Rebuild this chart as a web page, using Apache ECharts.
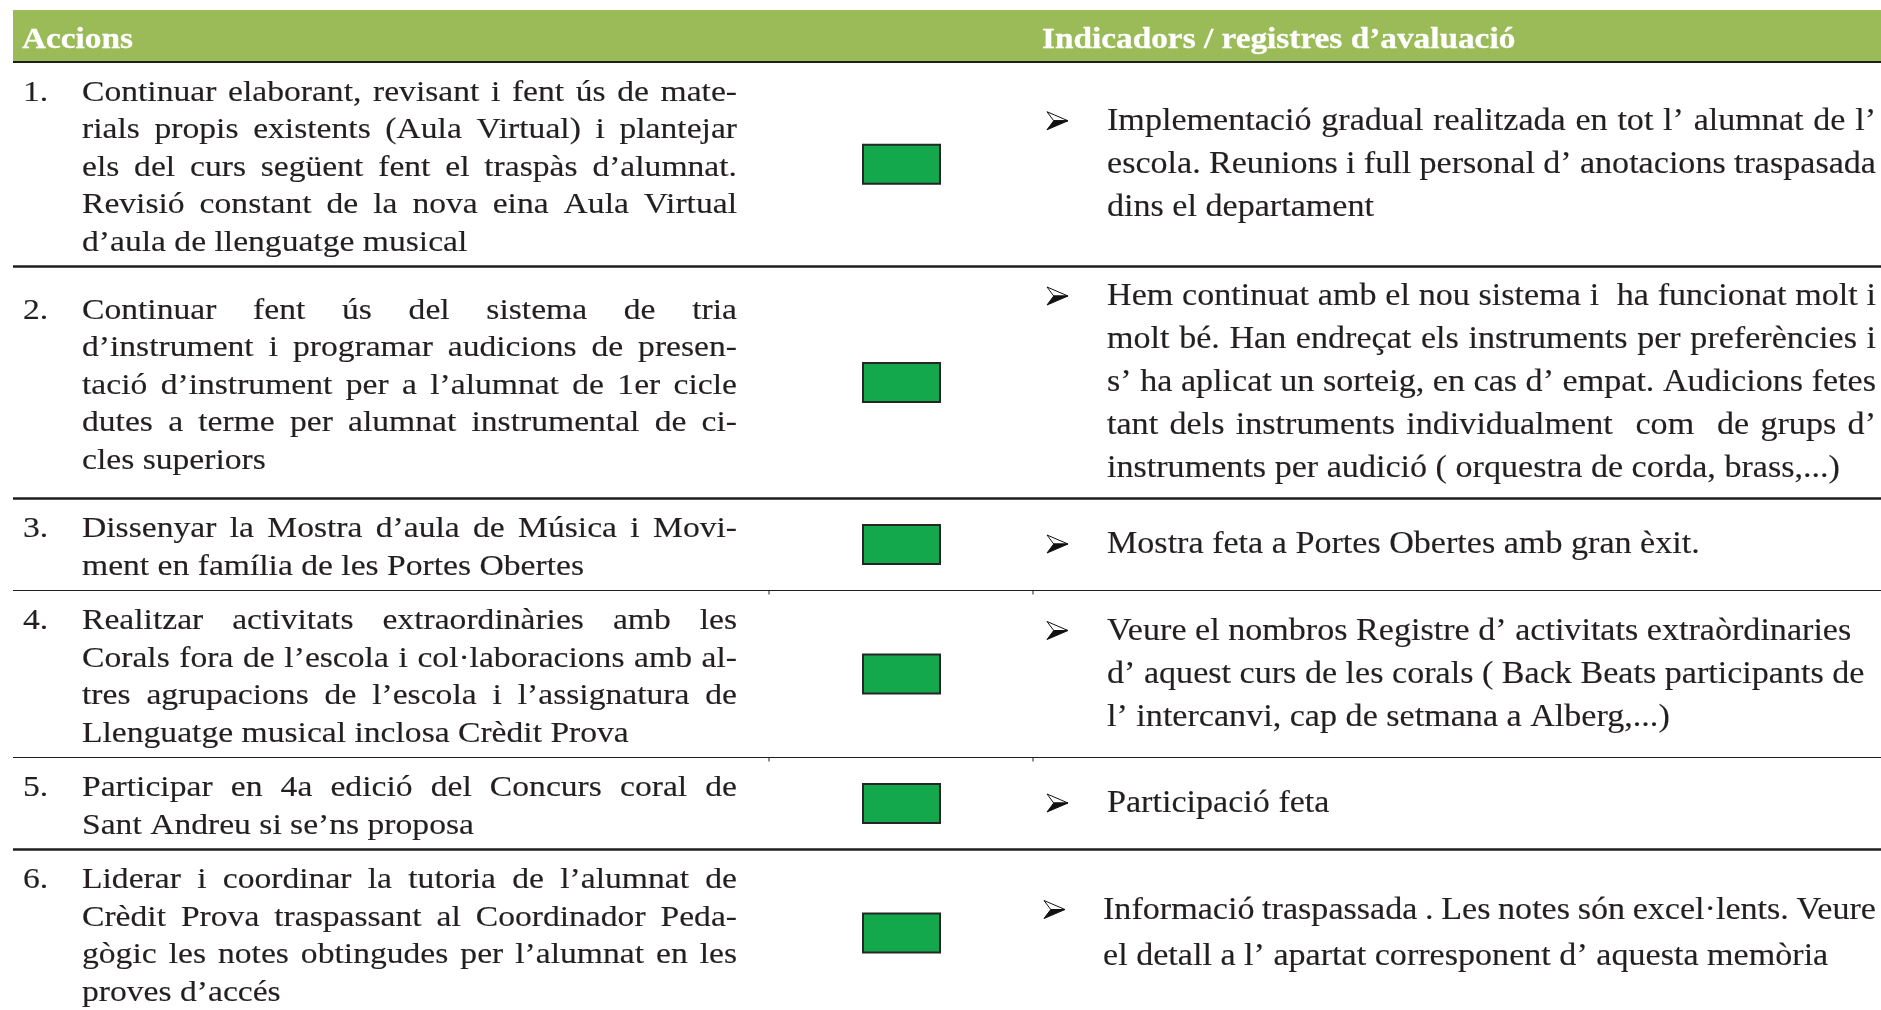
<!DOCTYPE html>
<html>
<head>
<meta charset="utf-8">
<script src="https://cdn.jsdelivr.net/npm/echarts@6/dist/echarts.min.js"></script>
<style>
html,body{margin:0;padding:0;background:#ffffff;}
#main{width:1881px;height:1010px;}
</style>
</head>
<body>
<div id="main"></div>
<script>
// ---------------- DATA ----------------
const headers = ['Accions', 'Indicadors / registres d’avaluació'];
const actionNumbers = ['1.', '2.', '3.', '4.', '5.', '6.'];
const actionLines = [
  ['Continuar elaborant, revisant i fent ús de mate-',
   'rials propis existents (Aula Virtual) i plantejar',
   'els del curs següent fent el traspàs d’alumnat.',
   'Revisió constant de la nova eina Aula Virtual',
   'd’aula de llenguatge musical'],
  ['Continuar fent ús del sistema de tria',
   'd’instrument i programar audicions de presen-',
   'tació d’instrument per a l’alumnat de 1er cicle',
   'dutes a terme per alumnat instrumental de ci-',
   'cles superiors'],
  ['Dissenyar la Mostra d’aula de Música i Movi-',
   'ment en família de les Portes Obertes'],
  ['Realitzar activitats extraordinàries amb les',
   'Corals fora de l’escola i col·laboracions amb al-',
   'tres agrupacions de l’escola i l’assignatura de',
   'Llenguatge musical inclosa Crèdit Prova'],
  ['Participar en 4a edició del Concurs coral de',
   'Sant Andreu si se’ns proposa'],
  ['Liderar i coordinar la tutoria de l’alumnat de',
   'Crèdit Prova traspassant al Coordinador Peda-',
   'gògic les notes obtingudes per l’alumnat en les',
   'proves d’accés']
];
const indicatorLines = [
  ['Implementació gradual realitzada en tot l’ alumnat de l’',
   'escola. Reunions i full personal d’ anotacions traspasada',
   'dins el departament'],
  ['Hem continuat amb el nou sistema i  ha funcionat molt i',
   'molt bé. Han endreçat els instruments per preferències i',
   's’ ha aplicat un sorteig, en cas d’ empat. Audicions fetes',
   'tant dels instruments individualment  com  de grups d’',
   'instruments per audició ( orquestra de corda, brass,...)'],
  ['Mostra feta a Portes Obertes amb gran èxit.'],
  ['Veure el nombros Registre d’ activitats extraòrdinaries',
   'd’ aquest curs de les corals ( Back Beats participants de',
   'l’ intercanvi, cap de setmana a Alberg,...)'],
  ['Participació feta'],
  ['Informació traspassada . Les notes són excel·lents. Veure',
   'el detall a l’ apartat corresponent d’ aquesta memòria']
];
const indicatorAlign = ['justify', 'justify', 'left', 'left', 'left', 'justify'];
const status = ['assolit', 'assolit', 'assolit', 'assolit', 'assolit', 'assolit'];

// ---------------- LAYOUT / STYLE ----------------
const W = 1881, H = 1010;
const LAY = {
  left: 13, right: 1881,
  headerTop: 10, headerBottom: 62,
  headLeftX: 22, headRightX: 1042, headDy: 4,
  numX: 23, actionX: 82, actionRight: 737,
  boxX: 863, boxW: 77, boxH: 39,
  bulletX: [1047, 1047, 1047, 1047, 1047, 1044],
  bulletW: 21, bulletH: 18,
  indX: [1107, 1107, 1107, 1107, 1107, 1103],
  indRight: 1876,
  pitchL: 37.5,
  pitchR: [43, 43, 43, 43, 43, 46],
  rowPad: 17,
  thinRows: [2, 3],
  colTicks: [769, 1033],
  dyL: 3.5, dyR: 0.5
};
const STY = {
  font: '"Liberation Serif", "Times New Roman", serif',
  sizeL: 30, sxL: 1.12,
  sizeR: 31, sxR: 1.1,
  headSize: 30, headSx: 1.11,
  textColor: '#231f20',
  headBg: '#9bbb59',
  rule: '#1e1e1e',
  statusColor: { assolit: '#12a84b' }
};

const mctx = document.createElement('canvas').getContext('2d');
function measure(t, font) { mctx.font = font; return mctx.measureText(t).width; }

// rows
const rows = [];
let yCur = LAY.headerBottom;
for (let r = 0; r < actionLines.length; r++) {
  const hL = actionLines[r].length * LAY.pitchL;
  const hR = indicatorLines[r].length * LAY.pitchR[r];
  const h = Math.max(hL, hR) + LAY.rowPad;
  rows.push({ top: yCur, h: h, hL: hL, hR: hR });
  yCur += h;
}

// text items
const textItems = [];
const bulletData = [];
const fontL = STY.sizeL + 'px ' + STY.font;
const fontR = STY.sizeR + 'px ' + STY.font;
const headFont = 'bold ' + STY.headSize + 'px ' + STY.font;
const headY = (LAY.headerTop + LAY.headerBottom) / 2 + LAY.headDy;
textItems.push({ x: LAY.headLeftX, y: headY, text: headers[0], font: headFont, sx: STY.headSx, color: '#ffffff', sw: 0.3 });
textItems.push({ x: LAY.headRightX, y: headY, text: headers[1], font: headFont, sx: STY.headSx, color: '#ffffff', sw: 0.3 });
rows.forEach(function (row, r) {
  const y0L = row.top + (row.h - row.hL) / 2;
  actionLines[r].forEach(function (line, k) {
    const y = y0L + LAY.pitchL * (k + 0.5) + LAY.dyL;
    if (k === 0) textItems.push({ x: LAY.numX, y: y, text: actionNumbers[r], font: fontL, sx: STY.sxL, color: STY.textColor, sw: 0.15 });
    textItems.push({ x: LAY.actionX, y: y, right: LAY.actionRight, justify: k < actionLines[r].length - 1,
      text: line, font: fontL, sx: STY.sxL, color: STY.textColor, sw: 0.15 });
  });
  const y0R = row.top + (row.h - row.hR) / 2;
  indicatorLines[r].forEach(function (line, k) {
    const y = y0R + LAY.pitchR[r] * (k + 0.5) + LAY.dyR;
    if (k === 0) bulletData.push([LAY.bulletX[r], y - 1]);
    textItems.push({ x: LAY.indX[r], y: y, right: LAY.indRight,
      justify: indicatorAlign[r] === 'justify' && k < indicatorLines[r].length - 1,
      text: line, font: fontR, sx: STY.sxR, color: STY.textColor, sw: 0.15 });
  });
});

// rules
const ruleData = [[LAY.left, LAY.headerBottom, LAY.right, 2]];
rows.forEach(function (row, r) {
  if (r < rows.length - 1) {
    ruleData.push([LAY.left, row.top + row.h, LAY.right, LAY.thinRows.indexOf(r) >= 0 ? 1.2 : 2.6]);
  }
});
const statusData = rows.map(function (row, r) { return [LAY.boxX, row.top + row.h / 2, r]; });
const textData = textItems.map(function (t, i) { return [t.x, t.y, i]; });

function renderText(params, api) {
  const it = textItems[api.value(2)];
  const p = api.coord([api.value(0), api.value(1)]);
  const base = { fill: it.color, font: it.font, verticalAlign: 'middle', align: 'left', stroke: it.color, lineWidth: it.sw };
  if (!it.justify) {
    return { type: 'text', x: p[0], y: p[1], scaleX: it.sx, style: Object.assign({ text: it.text }, base), silent: true };
  }
  const pr = api.coord([it.right, api.value(1)]);
  const words = it.text.split(' ');
  const ws = words.map(function (w) { return measure(w, it.font) * it.sx; });
  const total = ws.reduce(function (a, b) { return a + b; }, 0);
  const gap = (pr[0] - p[0] - total) / (words.length - 1);
  const children = [];
  let x = p[0];
  words.forEach(function (w, i) {
    if (w.length) children.push({ type: 'text', x: x, y: p[1], scaleX: it.sx, style: Object.assign({ text: w }, base), silent: true });
    x += ws[i] + gap;
  });
  return { type: 'group', children: children };
}

const chart = echarts.init(document.getElementById('main'), null, { renderer: 'canvas' });
chart.setOption({
  animation: false,
  backgroundColor: '#ffffff',
  grid: { left: 0, right: 0, top: 0, bottom: 0 },
  xAxis: { type: 'value', min: 0, max: W, show: false },
  yAxis: { type: 'value', min: 0, max: H, inverse: true, show: false },
  tooltip: { show: false },
  series: [
    {
      type: 'custom', name: 'header', clip: false, silent: true,
      data: [[LAY.left, LAY.headerTop, LAY.right, LAY.headerBottom]],
      renderItem: function (params, api) {
        const a = api.coord([api.value(0), api.value(1)]);
        const b = api.coord([api.value(2), api.value(3)]);
        return { type: 'rect', shape: { x: a[0], y: Math.min(a[1], b[1]), width: b[0] - a[0], height: Math.abs(b[1] - a[1]) },
          style: { fill: STY.headBg } };
      }
    },
    {
      type: 'custom', name: 'rules', clip: false, silent: true,
      data: ruleData,
      renderItem: function (params, api) {
        const a = api.coord([api.value(0), api.value(1)]);
        const b = api.coord([api.value(2), api.value(1)]);
        const lw = api.value(3);
        const children = [{ type: 'line', shape: { x1: a[0], y1: a[1], x2: b[0], y2: b[1] }, style: { stroke: STY.rule, lineWidth: lw } }];
        if (lw < 2) {
          LAY.colTicks.forEach(function (cx) {
            const c = api.coord([cx, api.value(1)]);
            children.push({ type: 'line', shape: { x1: c[0], y1: c[1], x2: c[0], y2: c[1] + 4 }, style: { stroke: STY.rule, lineWidth: 1 } });
          });
        }
        return { type: 'group', children: children };
      }
    },
    {
      type: 'custom', name: 'status', clip: false, silent: true,
      data: statusData,
      renderItem: function (params, api) {
        const c = api.coord([api.value(0), api.value(1)]);
        const st = status[api.value(2)];
        return { type: 'rect', shape: { x: c[0], y: c[1] - LAY.boxH / 2, width: LAY.boxW, height: LAY.boxH },
          style: { fill: STY.statusColor[st], stroke: '#262626', lineWidth: 2 } };
      }
    },
    {
      type: 'custom', name: 'bullets', clip: false, silent: true,
      data: bulletData,
      renderItem: function (params, api) {
        const c = api.coord([api.value(0), api.value(1)]);
        const w = LAY.bulletW, h = LAY.bulletH;
        const x0 = c[0], yc = c[1];
        const notch = [x0 + w * 0.32, yc];
        const tip = [x0 + w, yc];
        return { type: 'group', children: [
          { type: 'polygon', shape: { points: [[x0, yc - h / 2], tip, notch] }, style: { fill: '#ffffff', stroke: '#111', lineWidth: 1 } },
          { type: 'polygon', shape: { points: [notch, tip, [x0, yc + h / 2]] }, style: { fill: '#111', stroke: '#111', lineWidth: 1 } }
        ] };
      }
    },
    {
      type: 'custom', name: 'text', clip: false, silent: true,
      data: textData,
      renderItem: renderText
    }
  ]
});
</script>
</body>
</html>
